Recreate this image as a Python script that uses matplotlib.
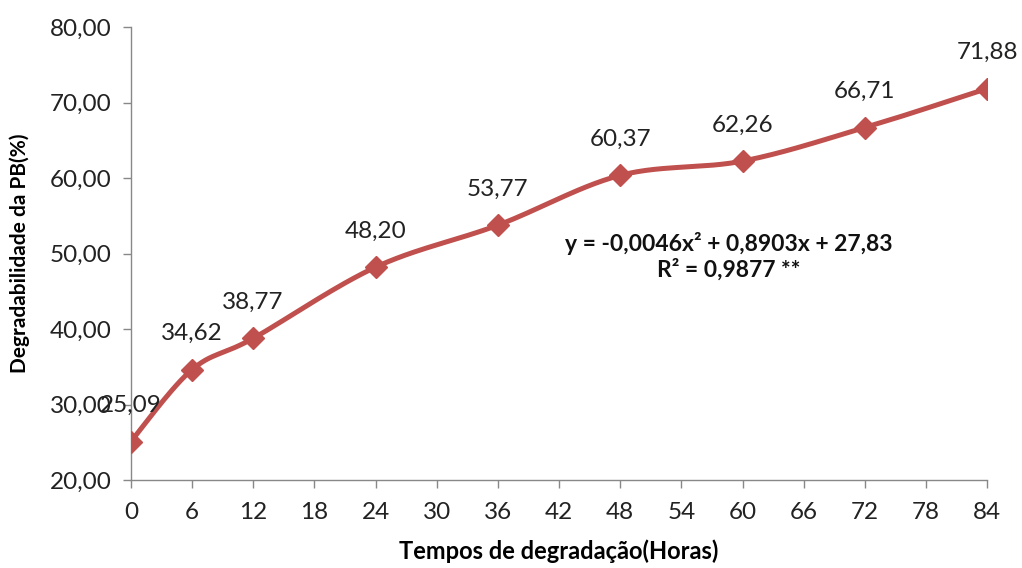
import numpy as np
import matplotlib
matplotlib.use("Agg")
import matplotlib.pyplot as plt
from matplotlib.ticker import FuncFormatter

# Degradation times (hours) and crude protein degradability (%)
hours = [0, 6, 12, 24, 36, 48, 60, 72, 84]
degradability = [25.09, 34.62, 38.77, 48.20, 53.77, 60.37, 62.26, 66.71, 71.88]
x_ticks = list(range(0, 85, 6))
y_ticks = [20, 30, 40, 50, 60, 70, 80]
equation = "y = -0,0046x² + 0,8903x + 27,83"
r_squared = "R² = 0,9877 **"

COLOR = "#C0504D"
FONT = "Lato"


def smooth_curve(xs, ys, n=30):
    """Catmull-Rom style smoothing through the points (spreadsheet smoothed line)."""
    xs = np.asarray(xs, float)
    ys = np.asarray(ys, float)
    px = np.concatenate([[xs[0]], xs, [xs[-1]]])
    py = np.concatenate([[ys[0]], ys, [ys[-1]]])
    out_x, out_y = [], []
    t = np.linspace(0, 1, n)
    for i in range(1, len(px) - 2):
        p0 = np.array([px[i], py[i]])
        p3 = np.array([px[i + 1], py[i + 1]])
        c1 = p0 + (np.array([px[i + 1], py[i + 1]]) - np.array([px[i - 1], py[i - 1]])) / 6
        c2 = p3 - (np.array([px[i + 2], py[i + 2]]) - np.array([px[i], py[i]])) / 6
        b = ((1 - t) ** 3)[:, None] * p0 + (3 * (1 - t) ** 2 * t)[:, None] * c1 \
            + (3 * (1 - t) * t ** 2)[:, None] * c2 + (t ** 3)[:, None] * p3
        out_x.extend(b[:, 0])
        out_y.extend(b[:, 1])
    return out_x, out_y


fig = plt.figure(figsize=(10.22, 5.68), dpi=100)
ax = fig.add_axes([0.128, 0.155, 0.838, 0.797])

sx, sy = smooth_curve(hours, degradability)
ax.plot(sx, sy, color=COLOR, lw=3.6, solid_capstyle="round", zorder=2)
ax.plot(hours, degradability, linestyle="none", marker="D", markersize=11.5,
        color=COLOR, zorder=3)

for h, v in zip(hours, degradability):
    ax.annotate(f"{v:.2f}".replace(".", ","), (h, v), xytext=(0, 26),
                textcoords="offset points", ha="center", va="center",
                fontsize=17.5, family=FONT, color="#222222")

ax.set_xlim(0, 84)
ax.set_ylim(20, 80)
ax.set_xticks(x_ticks)
ax.set_yticks(y_ticks)
ax.yaxis.set_major_formatter(FuncFormatter(lambda v, p: f"{v:.2f}".replace(".", ",")))
ax.tick_params(axis="both", direction="out", length=6, width=1, color="#888888",
               labelsize=17.5, labelcolor="#222222")
ax.tick_params(axis="x", pad=10)
ax.tick_params(axis="y", pad=8)
for lbl in ax.get_xticklabels() + ax.get_yticklabels():
    lbl.set_family(FONT)

for side in ("top", "right"):
    ax.spines[side].set_visible(False)
for side in ("left", "bottom"):
    ax.spines[side].set_color("#888888")
    ax.spines[side].set_linewidth(1)

ax.set_xlabel("Tempos de degradação(Horas)", fontsize=17, fontweight="bold",
              family=FONT, labelpad=12)
ax.set_ylabel("Degradabilidade da PB(%)", fontsize=15, fontweight="bold",
              family=FONT, labelpad=14)

fig.text(0.713, 0.572, equation, ha="center", va="center",
         fontsize=16.5, fontweight="bold", family=FONT, color="#111111")
fig.text(0.713, 0.525, r_squared, ha="center", va="center",
         fontsize=16.5, fontweight="bold", family=FONT, color="#111111")

fig.savefig("out.png", dpi=100, facecolor="white")
